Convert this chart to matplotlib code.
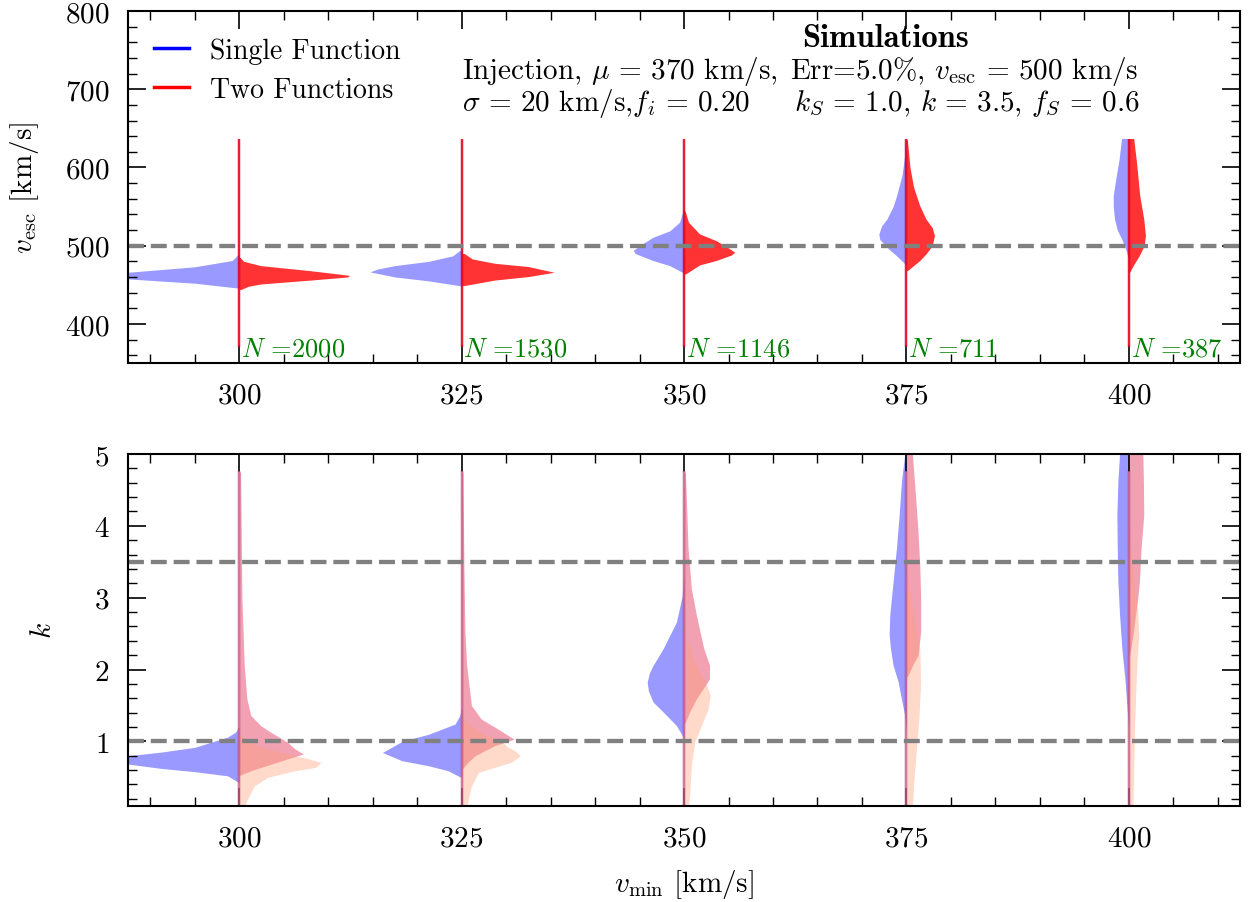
import matplotlib
matplotlib.use("Agg")
import matplotlib.pyplot as plt
from matplotlib.lines import Line2D

plt.rcParams['font.family'] = 'serif'
plt.rcParams['font.serif'] = ['cmr10']
plt.rcParams['mathtext.fontset'] = 'cm'
plt.rcParams['axes.formatter.use_mathtext'] = True
plt.rcParams['axes.unicode_minus'] = False

# x positions (v_min) and sample counts
vmin = [300, 325, 350, 375, 400]
n_samples = [2000, 1530, 1146, 711, 387]

# --- top panel: v_esc posteriors, half-violin profiles (value, half-width in km/s of x) ---
vesc_single_y = [
    [446, 452, 457.5, 461.5, 466, 473, 481, 488],
    [449, 455, 460, 466.5, 470, 474.5, 480, 487, 494],
    [466, 474.5, 481, 490, 494, 500, 510.7, 519, 530, 545],
    [476, 487, 498, 508, 515, 525, 534, 550, 564, 590, 615, 636],
    [483, 492, 500, 508.6, 520, 534, 550, 564, 590, 610, 637],
]
vesc_single_w = [
    [0.3, 5, 12.5, 16, 12.5, 5, 0.8, 0.2],
    [0.3, 3.7, 7.5, 10.3, 9.5, 7.5, 3.7, 1, 0.2],
    [0.2, 1.6, 3.5, 5.5, 5.7, 5, 3.5, 1.6, 0.5, 0.1],
    [0.1, 1.1, 2.2, 3.0, 3.1, 2.8, 2.2, 1.5, 1.1, 0.5, 0.2, 0.05],
    [0.05, 0.25, 0.5, 0.8, 1.3, 1.6, 1.75, 1.75, 1.4, 1.1, 0.82],
]
vesc_two_y = [
    [444, 448, 451, 456, 460, 462, 464, 468, 474.5, 480, 485],
    [449, 456, 460.5, 466, 473.3, 477.5, 483, 490],
    [464, 475.4, 481, 488, 491.6, 497, 506.5, 515, 530, 545],
    [468, 481, 489.5, 500, 513, 523, 534, 551, 575, 600, 636],
    [466, 474.5, 487, 500, 513, 534, 564, 607, 637],
]
vesc_two_w = [
    [0.2, 1, 2.4, 8, 12.2, 12.4, 11, 8, 2.4, 0.5, 0.1],
    [0.3, 3.7, 7.5, 10.4, 7.5, 3.7, 1.2, 0.3],
    [0.2, 1.75, 3.6, 5.3, 5.7, 5, 3.6, 1.75, 0.5, 0.1],
    [0.1, 1.5, 2.2, 2.9, 3.15, 2.9, 2.2, 1.5, 0.8, 0.4, 0.1],
    [0.1, 0.49, 1.16, 1.72, 1.87, 1.68, 1.23, 0.86, 0.55],
]
vesc_tail = [371, 637]

# --- bottom panel: k posteriors ---
k_single_y = [
    [0.43, 0.52, 0.578, 0.624, 0.684, 0.75, 0.80, 0.85, 0.917, 1.06, 1.13, 1.2],
    [0.5, 0.59, 0.66, 0.73, 0.845, 1.0, 1.10, 1.24, 1.36, 1.45],
    [1.05, 1.22, 1.41, 1.546, 1.7, 1.825, 1.95, 2.06, 2.29, 2.66, 3.03, 3.3],
    [1.17, 1.36, 1.59, 1.83, 2.06, 2.29, 2.48, 2.76, 3.22, 3.69, 4.15, 4.62, 5.0],
    [1.2, 1.45, 1.83, 2.29, 2.76, 3.22, 3.69, 4.15, 4.62, 5.0],
]
k_single_w = [
    [0.1, 1.3, 5, 8.8, 12.5, 15, 12.5, 8.8, 5, 1.3, 0.4, 0.1],
    [0.1, 1.5, 3.7, 6.7, 8.9, 6.7, 3.7, 0.75, 0.2, 0.05],
    [0.05, 0.86, 2.35, 3.47, 4.0, 4.14, 3.9, 3.47, 2.35, 0.86, 0.2, 0.05],
    [0.03, 0.19, 0.56, 0.93, 1.5, 1.79, 1.94, 1.87, 1.5, 1.12, 0.82, 0.56, 0.19],
    [0.02, 0.19, 0.41, 0.78, 1.04, 1.23, 1.3, 1.34, 1.23, 1.04],
]
k_two_y = [
    [0.53, 0.6, 0.68, 0.755, 0.824, 0.9, 0.99, 1.13, 1.22, 1.36, 1.59, 2.06, 2.99, 4.75],
    [0.62, 0.72, 0.80, 0.94, 1.03, 1.10, 1.17, 1.31, 1.50, 2.06, 2.52, 3.5, 4.75],
    [1.25, 1.41, 1.59, 1.87, 2.06, 2.3, 2.76, 3.13, 3.69, 4.39, 4.75],
    [1.9, 2.06, 2.2, 2.52, 2.99, 3.45, 3.92, 4.39, 5.0],
    [2.2, 2.52, 2.76, 2.99, 3.22, 3.69, 4.15, 4.62, 5.0],
]
k_two_w = [
    [0.1, 1.5, 3.5, 5.4, 7.2, 6.2, 5.4, 3.5, 2.4, 1.3, 0.86, 0.56, 0.3, 0.15],
    [0.1, 0.8, 1.5, 3.7, 5.9, 5.0, 4.1, 2.2, 1.1, 0.56, 0.37, 0.25, 0.15],
    [0.1, 0.63, 1.38, 2.87, 2.87, 2.2, 1.38, 0.82, 0.45, 0.26, 0.15],
    [0.1, 0.7, 1.3, 1.6, 1.6, 1.5, 1.3, 1.04, 0.67],
    [0.1, 0.52, 0.75, 1.0, 1.19, 1.38, 1.68, 1.64, 1.57],
]
kS_two_y = [
    [0.1, 0.196, 0.38, 0.5, 0.59, 0.638, 0.707, 0.764, 0.82, 0.9, 1.0, 1.08],
    [0.1, 0.196, 0.38, 0.568, 0.638, 0.71, 0.8, 0.87, 0.92, 1.0, 1.1, 1.2, 1.3],
    [0.1, 0.3, 0.66, 0.987, 1.22, 1.45, 1.64, 1.80, 2.0, 2.2, 2.48, 2.6],
    [0.1, 0.43, 0.89, 1.36, 1.83, 2.29, 2.6, 3.0, 3.3, 3.4],
    [0.1, 0.66, 1.13, 1.59, 2.06, 2.48, 2.8, 3.2, 3.7, 4.0],
]
kS_two_w = [
    [0.56, 0.93, 1.7, 3.2, 6.2, 8.6, 9.2, 7.6, 5.5, 3, 1, 0.2],
    [0.6, 0.75, 1.1, 1.9, 3.7, 5.6, 6.6, 6.0, 5.2, 4.5, 2.5, 1.2, 0.3],
    [0.5, 0.65, 0.82, 1.19, 1.94, 2.7, 2.95, 2.5, 1.6, 0.9, 0.2, 0.05],
    [0.67, 0.82, 1.12, 1.42, 1.6, 1.5, 1.0, 0.5, 0.1, 0.02],
    [0.45, 0.56, 0.63, 0.75, 0.9, 1.12, 1.0, 0.6, 0.2, 0.02],
]
k_tail = [0.1, 4.76]

vesc_true = 500
k_lines = [1.0, 3.5]


def half_violin(ax, x0, ys, ws, side, color, alpha):
    xs = [x0 + side * w for w in ws]
    ax.fill_betweenx(ys, x0, xs, color=color, alpha=alpha, lw=0)


def style_axis(ax):
    ax.tick_params(which='both', direction='in', top=True, right=True,
                   labelsize=21, pad=13.5)
    ax.tick_params(which='major', length=13, width=1.2)
    ax.tick_params(which='minor', length=6.5, width=1.0)
    for s in ax.spines.values():
        s.set_linewidth(1.5)
    ax.set_xlim(287.5, 412.5)
    ax.set_xticks(vmin)
    ax.set_xticks(range(290, 411, 5), minor=True)


fig = plt.figure(figsize=(12.48, 9.03), dpi=100)
ax1 = fig.add_axes([0.1026, 0.5969, 0.8910, 0.3898])
ax2 = fig.add_axes([0.1026, 0.1063, 0.8910, 0.3898])

# top panel
for i, x0 in enumerate(vmin):
    half_violin(ax1, x0, vesc_single_y[i], vesc_single_w[i], -1, 'blue', 0.4)
    half_violin(ax1, x0, vesc_two_y[i], vesc_two_w[i], 1, 'red', 0.8)
    ax1.plot([x0, x0], vesc_tail, color='blue', alpha=0.4, lw=1.7, solid_capstyle='butt')
    ax1.plot([x0, x0], vesc_tail, color='red', alpha=0.8, lw=1.7, solid_capstyle='butt')
    ax1.text(x0 + 0.2, 369, r'$N$ =' + str(n_samples[i]), color='green',
             fontsize=19, ha='left', va='center')
ax1.axhline(vesc_true, color='gray', ls='--', lw=3.1)
ax1.set_ylim(350, 800)
ax1.set_yticks([400, 500, 600, 700, 800])
ax1.set_yticks(range(360, 801, 20), minor=True)
style_axis(ax1)
ax1.set_ylabel(r'$v_{\rm esc}$ [km/s]', fontsize=21)
ax1.yaxis.set_label_coords(-0.078, 0.5)

handles = [Line2D([], [], color='blue', lw=2.5), Line2D([], [], color='red', lw=2.5)]
ax1.legend(handles, ['Single Function', 'Two Functions'], loc='upper left',
           frameon=False, fontsize=20, handlelength=1.25, handletextpad=0.75,
           borderaxespad=0.55, labelspacing=0.45)

ax1.text(0.300, 0.830, r'Injection, $\mu\,=\,370$ km/s,', transform=ax1.transAxes,
         fontsize=21, ha='left', va='center')
ax1.text(0.300, 0.739, r'$\sigma\,=\,20$ km/s,$f_i\,=\,0.20$', transform=ax1.transAxes,
         fontsize=21, ha='left', va='center')
ax1.text(0.681, 0.924, 'Simulations', transform=ax1.transAxes, family='cmb10',
         fontsize=23.5, ha='center', va='center')
ax1.text(0.595, 0.830, r'Err=5.0%, $v_{\rm esc}\,=\,500$ km/s', transform=ax1.transAxes,
         fontsize=21, ha='left', va='center')
ax1.text(0.599, 0.739, r'$k_S\,=\,1.0$, $k\,=\,3.5$, $f_S\,=\,0.6$', transform=ax1.transAxes,
         fontsize=21, ha='left', va='center')

# bottom panel
for i, x0 in enumerate(vmin):
    half_violin(ax2, x0, k_single_y[i], k_single_w[i], -1, 'blue', 0.4)
    half_violin(ax2, x0, k_two_y[i], k_two_w[i], 1, 'crimson', 0.4)
    half_violin(ax2, x0, kS_two_y[i], kS_two_w[i], 1, 'lightsalmon', 0.4)
    for c in ['blue', 'crimson', 'lightsalmon']:
        ax2.plot([x0, x0], k_tail, color=c, alpha=0.4, lw=1.7, solid_capstyle='butt')
for kv in k_lines:
    ax2.axhline(kv, color='gray', ls='--', lw=3.1)
ax2.set_ylim(0.1, 5)
ax2.set_yticks([1, 2, 3, 4, 5])
ax2.set_yticks([0.2 * j for j in range(1, 26)], minor=True)
style_axis(ax2)
ax2.set_ylabel(r'$k$', fontsize=21)
ax2.yaxis.set_label_coords(-0.064, 0.5)
ax2.set_xlabel(r'$v_{\rm min}$ [km/s]', fontsize=21)
ax2.xaxis.set_label_coords(0.5, -0.172)

fig.savefig('out.png', dpi=100)
